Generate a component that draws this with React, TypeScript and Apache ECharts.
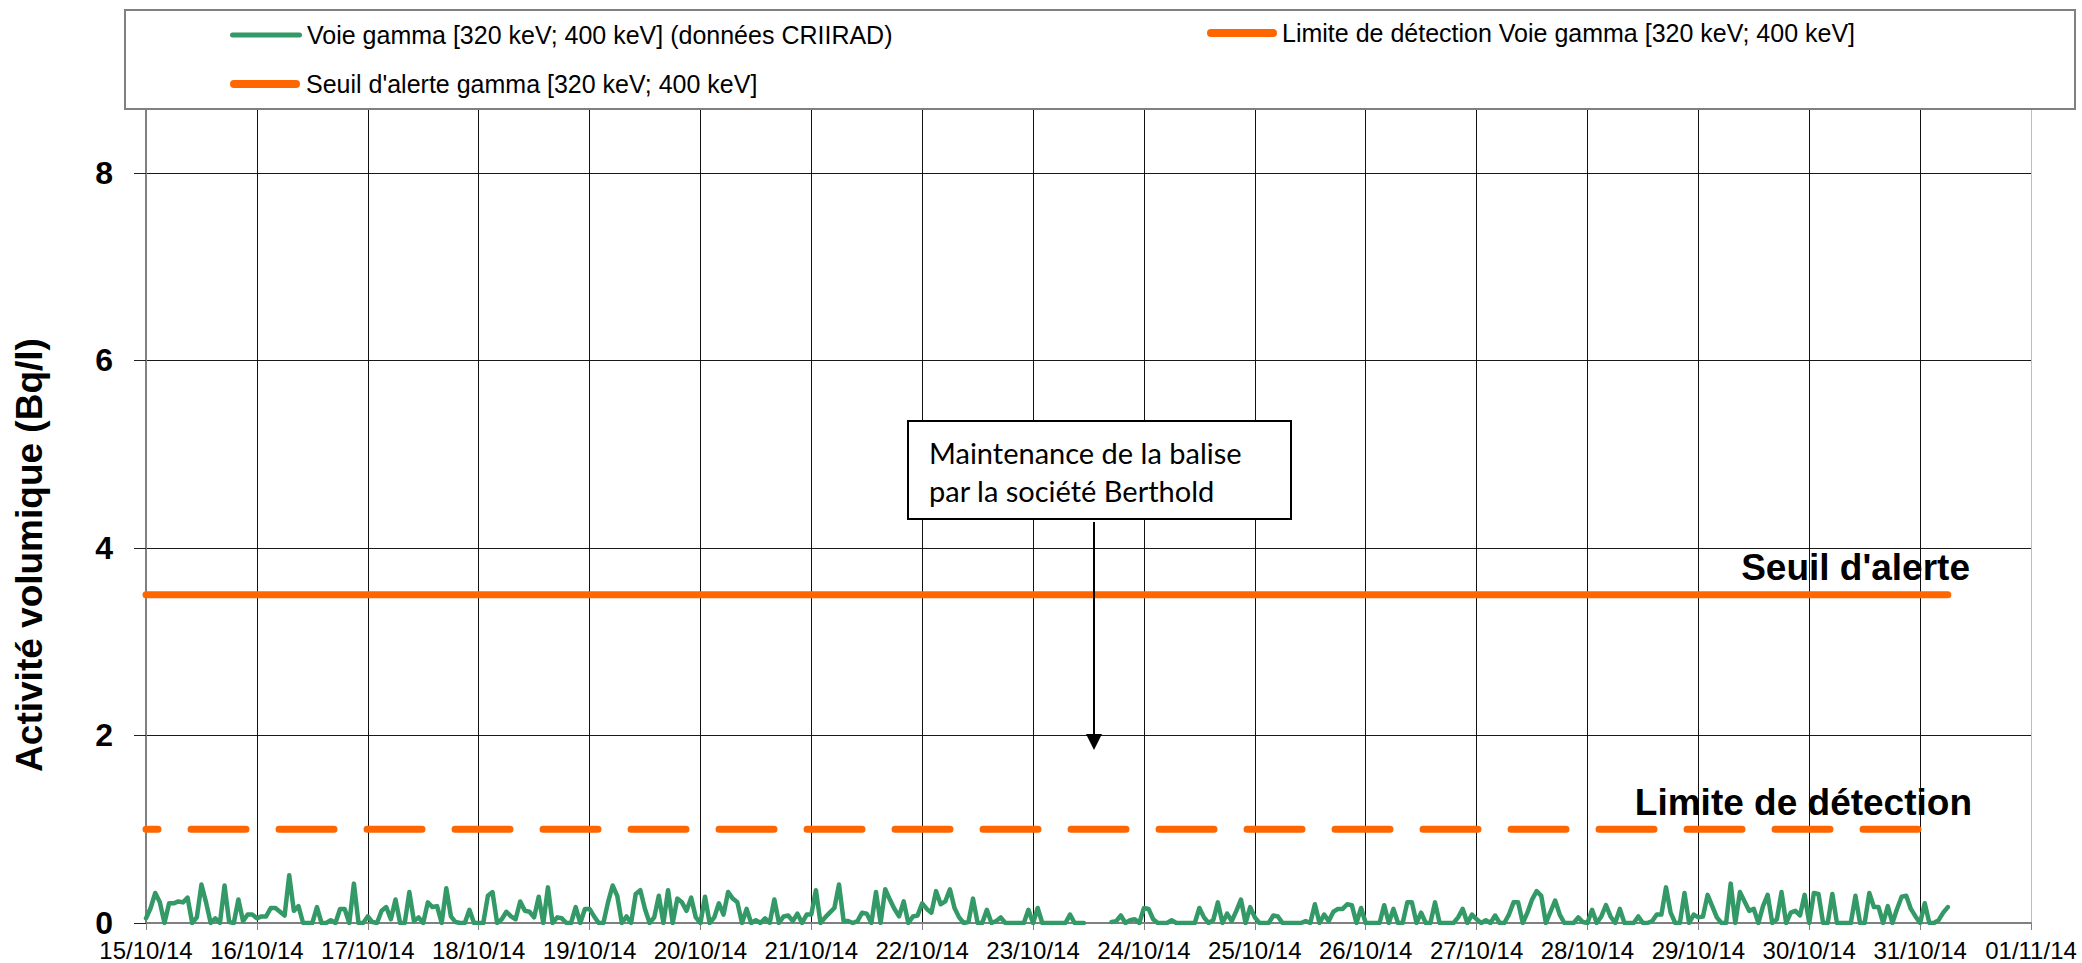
import React, { useEffect, useRef } from "react";
import * as echarts from "echarts";

// ---- Data (hourly values, Bq/l) ----
const DATE_LABELS = [
  "15/10/14", "16/10/14", "17/10/14", "18/10/14", "19/10/14", "20/10/14",
  "21/10/14", "22/10/14", "23/10/14", "24/10/14", "25/10/14", "26/10/14",
  "27/10/14", "28/10/14", "29/10/14", "30/10/14", "31/10/14", "01/11/14",
];

const HOURS_PER_DAY = 24;

const D15 = [0.05, 0.16, 0.32, 0.22, 0, 0.21, 0.21, 0.23, 0.22, 0.27, 0, 0.06, 0.41, 0.22, 0, 0.05, 0, 0.40, 0.01, 0, 0.25, 0.02, 0.09, 0.09];
const D16 = [0.05, 0.07, 0.07, 0.16, 0.16, 0.12, 0.08, 0.51, 0.13, 0.18, 0, 0, 0, 0.17, 0, 0, 0.03, 0, 0.15, 0.15, 0, 0.42, 0, 0];
const D17 = [0.07, 0.01, 0, 0.13, 0.17, 0.04, 0.25, 0, 0, 0.33, 0.02, 0.06, 0, 0.22, 0.17, 0.18, 0, 0.37, 0.07, 0.01, 0, 0, 0.14, 0];
const D18 = [0, 0, 0.29, 0.33, 0, 0.04, 0.12, 0.07, 0.04, 0.23, 0.13, 0.12, 0.06, 0.28, 0, 0.38, 0, 0.06, 0.05, 0, 0, 0.17, 0, 0.15];
const D19 = [0.15, 0.07, 0, 0, 0.22, 0.40, 0.29, 0, 0.07, 0, 0.31, 0.35, 0.15, 0, 0.06, 0.29, 0, 0.35, 0, 0.26, 0.22, 0.13, 0.27, 0.06];
const D20 = [0, 0.28, 0, 0.06, 0.21, 0.09, 0.33, 0.26, 0.22, 0, 0.15, 0, 0.03, 0, 0.05, 0, 0.25, 0, 0.07, 0.08, 0.02, 0.10, 0, 0.09];
const D21 = [0.09, 0.35, 0, 0.06, 0.11, 0.16, 0.41, 0.02, 0.02, 0, 0.02, 0.11, 0.10, 0, 0.33, 0, 0.36, 0.25, 0.15, 0.07, 0.23, 0, 0.07, 0.08];
const D22 = [0.21, 0.15, 0.11, 0.34, 0.20, 0.23, 0.36, 0.16, 0.06, 0, 0.01, 0.26, 0, 0, 0.14, 0, 0.02, 0.06, 0, 0, 0, 0, 0, 0.14];
const D23 = [0, 0.16, 0, 0, 0, 0, 0, 0, 0.09, 0, 0, 0, null, null, null, null, null, 0.01, 0.02, 0.08, 0, 0.03, 0.04, 0];
const D24 = [0.16, 0.15, 0.04, 0, 0, 0, 0.03, 0, 0, 0, 0, 0, 0.16, 0.06, 0, 0.03, 0.22, 0, 0.10, 0.02, 0.13, 0.25, 0, 0.17];
const D25 = [0.06, 0, 0, 0, 0.08, 0.07, 0, 0, 0, 0, 0, 0.02, 0, 0.20, 0, 0.09, 0.02, 0.12, 0.15, 0.15, 0.20, 0.19, 0, 0.16];
const D26 = [0, 0, 0, 0, 0.19, 0, 0.15, 0, 0, 0.22, 0.22, 0, 0.11, 0, 0, 0.22, 0, 0, 0, 0, 0.06, 0.15, 0, 0.09];
const D27 = [0.04, 0, 0.03, 0, 0.08, 0, 0, 0.09, 0.22, 0.22, 0, 0.11, 0.25, 0.34, 0.29, 0, 0.12, 0.24, 0.09, 0, 0, 0, 0.06, 0.01];
const D28 = [0, 0.14, 0, 0.07, 0.19, 0.07, 0, 0.15, 0, 0, 0, 0.07, 0, 0, 0.02, 0.09, 0.09, 0.38, 0.11, 0, 0, 0.32, 0, 0.09];
const D29 = [0.06, 0.07, 0.30, 0.18, 0.06, 0, 0, 0.42, 0, 0.33, 0.23, 0.13, 0.15, 0, 0.18, 0.30, 0, 0.04, 0.33, 0, 0.11, 0.13, 0.08, 0.30];
const D30 = [0, 0.32, 0.31, 0, 0, 0.31, 0, 0, 0, 0, 0.29, 0, 0, 0.32, 0.17, 0.17, 0, 0.18, 0, 0.15, 0.28, 0.29, 0.15, 0.07];
const D31 = [0, 0.21, 0, 0, 0.03, 0.11, 0.17];

const VOIE_GAMMA: (number | null)[] = [
  ...D15, ...D16, ...D17, ...D18, ...D19, ...D20, ...D21, ...D22, ...D23,
  ...D24, ...D25, ...D26, ...D27, ...D28, ...D29, ...D30, ...D31,
];

const SEUIL_ALERTE = 3.5;
const LIMITE_DETECTION = 1.0;

const NAME_VOIE = "Voie gamma [320 keV; 400 keV] (données CRIIRAD)";
const NAME_LIMITE = "Limite de détection Voie gamma [320 keV; 400 keV]";
const NAME_SEUIL = "Seuil d'alerte gamma [320 keV; 400 keV]";

const Y_TITLE = "Activité volumique (Bq/l)";
const NOTE_LINES = ["Maintenance de la balise", "par la société Berthold"];
const LABEL_SEUIL = "Seuil d'alerte";
const LABEL_LIMITE = "Limite de détection";

const GREEN = "#339966";
const ORANGE = "#FF6600";
const FONT = "'Liberation Sans', Arial, sans-serif";

const ICON_THIN = "path://M2.5,0H69.5A2.5,2.5,0,0,1,69.5,5H2.5A2.5,2.5,0,0,1,2.5,0Z";
const ICON_THICK = "path://M4,0H66A4,4,0,0,1,66,8H4A4,4,0,0,1,4,0Z";

export default function App() {
  const ref = useRef<HTMLDivElement>(null);

  useEffect(() => {
    document.body.style.margin = "0";
    if (!ref.current) return;
    const chart = echarts.init(ref.current, undefined, { renderer: "svg" });

    const lastIdx = VOIE_GAMMA.length - 1;
    const nDays = DATE_LABELS.length - 1;
    const splitColors: string[] = [];
    for (let i = 0; i < nDays; i++) splitColors.push("#111");
    splitColors.push("#bdbdbd");

    const legendText = { color: "#000", fontSize: 25, fontFamily: FONT, lineHeight: 28 };

    chart.setOption({
      animation: false,
      backgroundColor: "#fff",
      textStyle: { fontFamily: FONT },
      grid: { left: 146, right: 51, top: 79, bottom: 40, containLabel: false },
      legend: [
        {
          data: [{ name: NAME_VOIE, icon: ICON_THIN }], left: 225, top: 16, itemWidth: 72, itemHeight: 5,
          selectedMode: false, textStyle: legendText,
        },
        {
          data: [{ name: NAME_LIMITE, icon: ICON_THICK }], left: 1202, top: 14, itemWidth: 70, itemHeight: 8,
          selectedMode: false, textStyle: legendText,
        },
        {
          data: [{ name: NAME_SEUIL, icon: ICON_THICK }], left: 225, top: 65, itemWidth: 72, itemHeight: 8,
          selectedMode: false, textStyle: legendText,
        },
      ],
      xAxis: {
        type: "value",
        min: 0,
        max: nDays * HOURS_PER_DAY,
        interval: HOURS_PER_DAY,
        axisLine: { show: true, lineStyle: { color: "#808080", width: 2 } },
        axisTick: { show: true, length: 7, lineStyle: { color: "#808080", width: 1 } },
        axisLabel: {
          show: true,
          margin: 15,
          fontSize: 24,
          lineHeight: 24,
          color: "#000",
          fontFamily: FONT,
          formatter: (v: number) => DATE_LABELS[Math.round(v / HOURS_PER_DAY)] ?? "",
        },
        splitLine: { show: true, lineStyle: { color: splitColors, width: 1 } },
      },
      yAxis: {
        type: "value",
        min: 0,
        max: 9,
        interval: 2,
        axisLine: { show: true, lineStyle: { color: "#808080", width: 2 } },
        axisTick: { show: true, length: 12, lineStyle: { color: "#222", width: 1 } },
        axisLabel: {
          show: true,
          align: "right",
          verticalAlign: "middle",
          margin: 33,
          fontSize: 32,
          padding: [0, 0, 10, 0],
          fontWeight: "bold",
          color: "#000",
          fontFamily: FONT,
          showMaxLabel: false,
        },
        splitLine: { show: true, lineStyle: { color: "#1a1a1a", width: 1 } },
      },
      series: [
        {
          name: NAME_VOIE,
          type: "line",
          data: VOIE_GAMMA.map((v, i) => [i, v]),
          symbol: "none",
          connectNulls: false,
          lineStyle: { color: GREEN, width: 4.5, join: "round", cap: "round" },
          itemStyle: { color: GREEN },
          z: 3,
        },
        {
          name: NAME_LIMITE,
          type: "line",
          data: [[0, LIMITE_DETECTION], [lastIdx, LIMITE_DETECTION]],
          symbol: "none",
          lineStyle: { color: ORANGE, width: 7, type: [55, 33], dashOffset: 42.5, cap: "round" },
          itemStyle: { color: ORANGE },
          z: 2,
        },
        {
          name: NAME_SEUIL,
          type: "line",
          data: [[0, SEUIL_ALERTE], [lastIdx, SEUIL_ALERTE]],
          symbol: "none",
          lineStyle: { color: ORANGE, width: 7, cap: "round" },
          itemStyle: { color: ORANGE },
          z: 2,
        },
      ],
      graphic: [
        {
          type: "rect",
          z: 3,
          shape: { x: 125, y: 10, width: 1950, height: 99 },
          style: { fill: "#fff", stroke: "#808080", lineWidth: 2 },
        },
        {
          type: "text",
          z: 10,
          x: 29,
          y: 555,
          rotation: Math.PI / 2,
          style: {
            text: Y_TITLE,
            font: `bold 37px ${FONT}`,
            fill: "#000",
            align: "center",
            verticalAlign: "middle",
          },
        },
        {
          type: "rect",
          z: 10,
          shape: { x: 908, y: 421, width: 383, height: 98 },
          style: { fill: "#fff", stroke: "#000", lineWidth: 2 },
        },
        {
          type: "text",
          z: 11,
          x: 929,
          y: 452,
          style: { text: NOTE_LINES[0], font: "29px Lato, sans-serif", fill: "#000", align: "left", verticalAlign: "middle" },
        },
        {
          type: "text",
          z: 11,
          x: 929,
          y: 490,
          style: { text: NOTE_LINES[1], font: "29px Lato, sans-serif", fill: "#000", align: "left", verticalAlign: "middle" },
        },
        {
          type: "line",
          z: 10,
          shape: { x1: 1094, y1: 522, x2: 1094, y2: 736 },
          style: { stroke: "#000", lineWidth: 2 },
        },
        {
          type: "polygon",
          z: 10,
          shape: { points: [[1086, 734], [1102, 734], [1094, 750]] },
          style: { fill: "#000" },
        },
        {
          type: "text",
          z: 10,
          x: 1970,
          y: 567,
          style: { text: LABEL_SEUIL, font: `bold 37px ${FONT}`, fill: "#000", align: "right", verticalAlign: "middle" },
        },
        {
          type: "text",
          z: 10,
          x: 1972,
          y: 802,
          style: { text: LABEL_LIMITE, font: `bold 37px ${FONT}`, fill: "#000", align: "right", verticalAlign: "middle" },
        },
      ],
    });

    return () => chart.dispose();
  }, []);

  return <div ref={ref} style={{ width: 2082, height: 963 }} />;
}
